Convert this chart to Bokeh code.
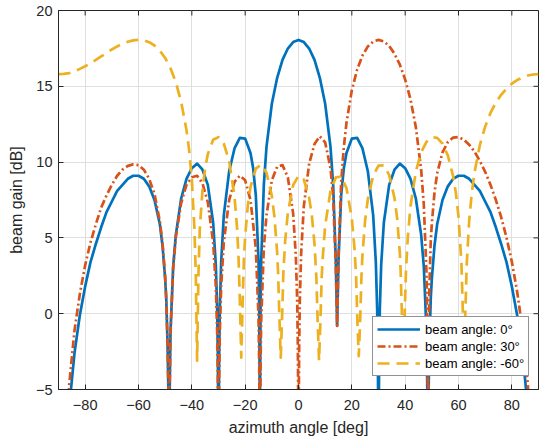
import math
from bokeh.plotting import figure
from bokeh.models import Range1d, FixedTicker, Legend, LegendItem
from bokeh.embed import file_html
from bokeh.resources import INLINE

# (azimuth angle [deg], beam gain [dB])
beam0 = [
    (-88, -12.2), (-86, -6.2), (-84, -2.6), (-82, -0.1), (-80, 1.8), (-78, 3.4), (-76, 4.6),
    (-74, 5.7), (-72, 6.7), (-70, 7.4), (-68, 8.1), (-66, 8.5), (-64, 8.9), (-62, 9.1),
    (-60, 9.1), (-58, 8.9), (-56, 8.4), (-54, 7.5), (-52, 5.9), (-51, 4.5), (-50, 2.3),
    (-49.6, 1.0), (-49.1, -2.0), (-48.8, -5.0), (-48.6, -30), (-48.3, -5.0), (-48, -1.2),
    (-47, 3.1), (-46, 5.2), (-44, 7.6), (-42, 8.9), (-40, 9.6), (-38, 9.9), (-36, 9.5),
    (-34, 8.5), (-32, 6.0), (-31, 3.2), (-30.5, 0.3), (-30.25, -2.7), (-30.1, -6.7), (-30, -30),
    (-29.9, -6.7), (-29.75, -2.7), (-29.5, 0.3), (-29, 3.4), (-28, 6.5), (-26, 9.4), (-24, 10.9),
    (-22, 11.6), (-20, 11.55), (-18, 10.6), (-17, 9.6), (-16, 7.8), (-15, 3.5), (-14.73, 0.45),
    (-14.55, -5.1), (-14.48, -30), (-14.41, -5.1), (-14.23, 0.45), (-14, 3.4), (-13, 8.5),
    (-12, 11.0), (-10, 13.85), (-8, 15.56), (-6, 16.74), (-4, 17.49), (-2, 17.92), (0, 18.06),
    (2, 17.92), (4, 17.49), (6, 16.74), (8, 15.56), (10, 13.85), (12, 11.0), (13, 8.5),
    (14, 3.4), (14.48, -0.8), (15, 3.5), (16, 7.8), (17, 9.6), (18, 10.6), (20, 11.55),
    (22, 11.6), (24, 10.9), (26, 9.4), (28, 6.5), (29, 3.4), (29.5, 0.3), (29.75, -2.7),
    (29.9, -6.7), (30, -30), (30.1, -6.7), (30.25, -2.7), (30.5, 0.3), (31, 3.2), (32, 6.0),
    (34, 8.5), (36, 9.5), (38, 9.9), (40, 9.6), (42, 8.9), (44, 7.6), (46, 5.2), (47, 3.1),
    (48, -1.2), (48.3, -5.0), (48.6, -30), (48.8, -5.0), (49.1, -2.0), (49.6, 1.0), (50, 2.3),
    (51, 4.5), (52, 5.9), (54, 7.5), (56, 8.4), (58, 8.9), (60, 9.1), (62, 9.1), (64, 8.9),
    (66, 8.5), (68, 8.1), (70, 7.4), (72, 6.7), (74, 5.7), (76, 4.6), (78, 3.4), (80, 1.8),
    (82, -0.1), (84, -2.6), (86, -6.2), (88, -12.2),
]

beam30 = [
    (-88, -10.7), (-86, -4.7), (-84, -1.1), (-82, 1.3), (-80, 3.2), (-78, 4.7), (-76, 5.9),
    (-74, 7.0), (-72, 7.8), (-70, 8.5), (-68, 9.1), (-66, 9.5), (-64, 9.75), (-62, 9.85),
    (-60, 9.8), (-58, 9.5), (-56, 8.9), (-54, 7.9), (-52, 6.1), (-51, 4.7), (-50, 2.4),
    (-49.6, 1.0), (-49.1, -2.0), (-48.8, -5.0), (-48.6, -30), (-48.3, -5.0), (-48, -1.3),
    (-47, 3.0), (-46, 5.05), (-44, 7.3), (-42, 8.5), (-40, 9.0), (-38, 9.1), (-36, 8.6),
    (-34, 7.35), (-32, 4.7), (-31, 1.8), (-30.5, -1.2), (-30.25, -4.2), (-30, -30),
    (-29.75, -4.2), (-29.5, -1.2), (-29, 1.8), (-28, 4.75), (-26, 7.5), (-24, 8.7), (-22, 9.1),
    (-20, 8.8), (-18, 7.5), (-16, 4.3), (-15, -0.2), (-14.73, -3.4), (-14.58, -7.4),
    (-14.48, -30), (-14.38, -7.4), (-14.23, -3.4), (-14, -0.5), (-13, 4.35), (-12, 6.5),
    (-10, 8.8), (-8, 9.7), (-6, 9.8), (-4, 9.0), (-2, 6.6), (-1, 3.8), (-0.5, 0.9),
    (-0.25, -2.1), (-0.1, -6.1), (0, -30), (0.1, -6.1), (0.25, -2.1), (0.5, 0.9), (1, 4.0),
    (2, 7.1), (4, 9.9), (6, 11.2), (8, 11.7), (10, 11.3), (12, 9.6), (13, 7.7), (14, 3.1),
    (14.48, -0.8), (15, 3.8), (16, 8.65), (17, 11.0), (18, 12.6), (20, 14.74), (22, 16.11),
    (24, 17.03), (26, 17.63), (28, 17.95), (30, 18.06), (32, 17.96), (34, 17.66), (36, 17.15),
    (38, 16.43), (40, 15.45), (42, 14.14), (44, 12.31), (46, 9.49), (47, 7.17), (48, 2.7),
    (48.34, -1.2), (48.49, -5.2), (48.59, -30), (48.69, -5.2), (48.84, -1.2), (49.09, 1.8),
    (49.59, 4.8), (50, 5.95), (51, 8.0), (52, 9.25), (54, 10.64), (56, 11.32), (58, 11.62),
    (60, 11.65), (62, 11.48), (64, 11.15), (66, 10.69), (68, 10.08), (70, 9.36), (72, 8.5),
    (74, 7.51), (76, 6.37), (78, 5.03), (80, 3.43), (82, 1.45), (84, -1.05), (86, -4.66),
    (88, -10.7),
]

beam_m60 = [
    (-90, 15.8), (-88, 15.82), (-86, 15.87), (-84, 15.99), (-82, 16.15), (-80, 16.32),
    (-78, 16.51), (-76, 16.74), (-74, 16.97), (-72, 17.19), (-70, 17.43), (-68, 17.63),
    (-66, 17.81), (-64, 17.94), (-62, 18.03), (-60, 18.06), (-58, 18.03), (-56, 17.91),
    (-54, 17.69), (-52, 17.35), (-50, 16.87), (-48, 16.19), (-46, 15.26), (-44, 13.97),
    (-42, 12.11), (-41, 10.77), (-40, 8.86), (-39.02, 5.58), (-38.52, 2.57), (-38.02, -3.1),
    (-37.52, 2.57), (-37.02, 5.58), (-36, 8.17), (-35, 9.62), (-34, 10.53), (-32, 11.47),
    (-30, 11.65), (-28, 11.21), (-26, 10.07), (-24, 7.73), (-23, 5.56), (-22.47, 3.63),
    (-22, 0.93), (-21.47, -2.9), (-20.97, 0.62), (-20.47, 3.63), (-20, 5.1), (-19, 7.15),
    (-18, 8.35), (-16, 9.57), (-14, 9.84), (-12, 9.3), (-10, 7.77), (-9, 6.36), (-8, 4.02),
    (-7.66, 2.76), (-7.16, -0.25), (-6.66, -2.9), (-6.16, -0.25), (-5.66, 2.76), (-5, 4.79),
    (-4, 6.65), (-2, 8.49), (0, 9.1), (2, 8.85), (4, 7.64), (5, 6.48), (6, 4.61), (6.7, 2.4),
    (7.2, -0.61), (7.7, -3.1), (8.2, -0.61), (8.7, 2.4), (9, 3.46), (10, 5.82), (12, 8.09),
    (14, 8.99), (16, 9.04), (18, 8.28), (20, 6.29), (21, 4.31), (21.6, 2.44), (22.1, -0.57),
    (22.6, -2.8), (23.1, -0.57), (23.6, 2.44), (24, 3.93), (25, 6.18), (26, 7.55), (28, 9.11),
    (30, 9.77), (32, 9.78), (34, 9.15), (36, 7.63), (37, 6.28), (38, 3.99), (38.3, 2.83),
    (38.8, -0.18), (39.3, -3.0), (39.8, -0.18), (40.3, 2.83), (41, 5.07), (42, 7.09),
    (44, 9.38), (46, 10.64), (48, 11.34), (50, 11.64), (52, 11.6), (54, 11.22), (56, 10.44),
    (58, 9.06), (59, 7.98), (60, 6.42), (61.1, 3.31), (61.6, 0.3), (62.1, -3.0), (62.6, 0.3),
    (63.1, 3.31), (64, 6.12), (65, 8.0), (66, 9.31), (68, 11.12), (70, 12.34), (72, 13.24),
    (74, 13.92), (76, 14.44), (78, 14.85), (80, 15.17), (82, 15.41), (84, 15.58), (86, 15.71),
    (88, 15.78), (90, 15.8),
]

series_labels = ["beam angle: 0°", "beam angle: 30°", "beam angle: -60°"]
series_colors = ["#0072BD", "#D95319", "#EDB120"]
series_dashes = ["solid", "8 3 2 3", "12 7"]
x_ticks = [-80, -60, -40, -20, 0, 20, 40, 60, 80]
y_ticks = [-5, 0, 5, 10, 15, 20]
x_lim = (-90, 90)
y_lim = (-5, 20)

FONT = "Liberation Sans"
INK = "#262626"

p = figure(width=540, height=441, output_backend="svg", toolbar_location=None,
           x_range=Range1d(*x_lim), y_range=Range1d(*y_lim),
           min_border_left=58, min_border_right=2, min_border_top=10, min_border_bottom=52,
           background_fill_color="white", border_fill_color="white")

p.outline_line_color = INK
p.outline_line_width = 1

for ax, ticks in ((p.xaxis[0], x_ticks), (p.yaxis[0], y_ticks)):
    ax.ticker = FixedTicker(ticks=ticks)
    ax.major_tick_in = 5
    ax.major_tick_out = 0
    ax.minor_tick_line_color = None
    ax.axis_line_color = INK
    ax.major_tick_line_color = INK
    ax.major_label_text_font = FONT
    ax.major_label_text_font_size = "14.5px"
    ax.major_label_text_color = INK
    ax.axis_label_text_font = FONT
    ax.axis_label_text_font_size = "16px"
    ax.axis_label_text_font_style = "normal"
    ax.axis_label_text_color = INK

p.xaxis.axis_label = "azimuth angle [deg]"
p.yaxis.axis_label = "beam gain [dB]"
p.xaxis.major_label_standoff = 10
p.xaxis.axis_label_standoff = 6
p.yaxis.major_label_standoff = 6
p.yaxis.axis_label_standoff = 8

p.xgrid.ticker = FixedTicker(ticks=x_ticks)
p.ygrid.ticker = FixedTicker(ticks=y_ticks)
p.grid.grid_line_color = "#dfdfdf"
p.grid.grid_line_width = 1

# tick marks on the top and right edges of the box (half of each marker is clipped)
p.scatter(x_ticks, [y_lim[1]] * len(x_ticks), marker="dash", size=10, angle=math.pi / 2,
          line_color=INK, line_width=1)
p.scatter([x_lim[1]] * len(y_ticks), y_ticks, marker="dash", size=10,
          line_color=INK, line_width=1)

items = []
for data, label, color, dash in zip((beam0, beam30, beam_m60), series_labels,
                                    series_colors, series_dashes):
    xs = [d[0] for d in data]
    ys = [d[1] for d in data]
    r = p.line(xs, ys, line_color=color, line_width=2.7, line_dash=dash, line_join="round")
    items.append(LegendItem(label=label, renderers=[r]))

legend = Legend(items=items, location=(314, 13), label_text_font=FONT,
                label_text_font_size="13px", label_text_color="#000000",
                glyph_width=43, glyph_height=16, label_height=16, label_standoff=5,
                padding=4, spacing=1, margin=0, border_line_color=INK,
                border_line_width=1, background_fill_color="white", background_fill_alpha=1)
p.add_layout(legend)

open("out.html", "w").write(file_html(p, INLINE))
